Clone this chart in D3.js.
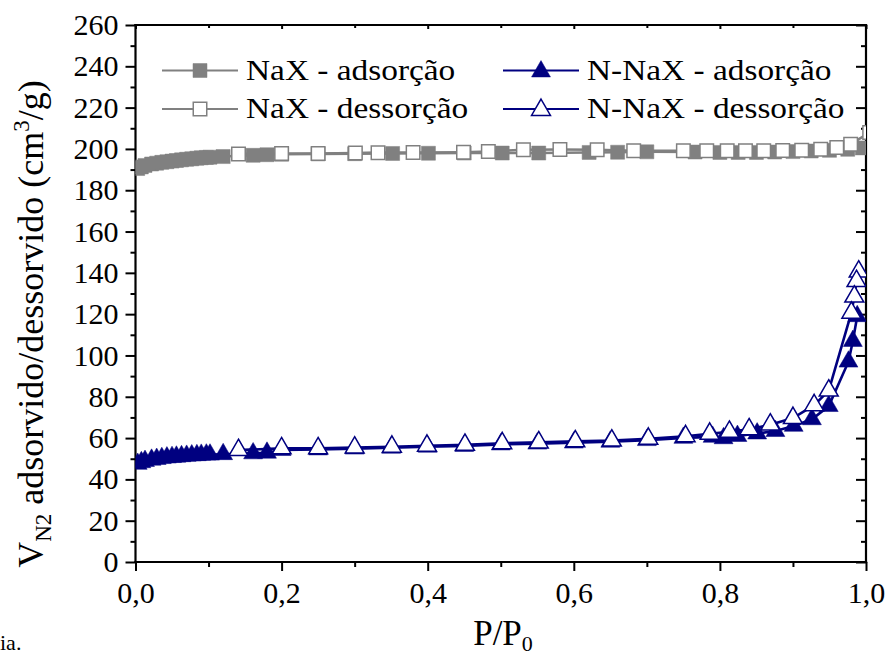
<!DOCTYPE html>
<html>
<head>
<meta charset="utf-8">
<script src="https://cdn.jsdelivr.net/npm/d3@7"></script>
<style>
  html, body { margin: 0; padding: 0; background: #fff; }
  svg { display: block; }
  text { font-family: "Liberation Serif", "Times New Roman", serif; fill: #000; }
</style>
</head>
<body>
<svg id="chart" width="889" height="657"></svg>
<script>
// ---------------- DATA ----------------
const naxAdsP = [0.003,0.008,0.013,0.022,0.029,0.036,0.043,0.050,0.056,0.063,0.070,0.077,0.084,0.090,0.097,0.102,0.12,0.161,0.18,0.20,0.25,0.30,0.352,0.401,0.45,0.502,0.552,0.621,0.66,0.70,0.766,0.80,0.825,0.85,0.875,0.90,0.925,0.95,0.975,0.995];
const naxAdsV = [190.5,191.3,192.0,192.7,193.1,193.5,193.8,194.1,194.4,194.7,195.0,195.2,195.5,195.7,195.9,196.0,196.3,196.9,197.2,197.4,197.6,197.7,197.8,197.9,198.0,198.0,198.0,198.3,198.4,198.6,198.5,198.3,198.3,198.3,198.5,198.7,199.0,199.3,199.8,200.5];
const naxDesP = [1.005,0.979,0.96,0.938,0.912,0.886,0.86,0.835,0.81,0.782,0.75,0.682,0.632,0.581,0.531,0.483,0.449,0.38,0.332,0.301,0.25,0.20,0.141];
const naxDesV = [208.0,202.3,200.7,199.9,199.4,199.2,199.1,199.1,199.1,199.1,199.1,199.1,199.6,199.7,199.6,198.7,198.4,198.3,198.2,198.0,197.8,197.8,197.6];

const nnaxAdsP = [0.003,0.008,0.013,0.022,0.029,0.036,0.043,0.050,0.056,0.063,0.070,0.077,0.084,0.090,0.097,0.102,0.12,0.161,0.18,0.20,0.25,0.30,0.35,0.40,0.45,0.50,0.55,0.60,0.65,0.70,0.75,0.79,0.805,0.824,0.851,0.876,0.901,0.926,0.949,0.976,0.982,0.988];
const nnaxAdsV = [47.5,48.3,48.9,49.5,49.9,50.3,50.6,50.8,51.0,51.2,51.4,51.6,51.7,51.9,52.0,52.0,52.2,52.6,52.9,54.2,54.5,54.9,55.3,55.8,56.2,56.9,57.3,57.8,58.2,59.0,60.1,60.6,59.9,61.0,62.2,63.4,65.9,69.1,75.5,97.0,107.0,119.0];
const nnaxDesP = [0.99,0.987,0.984,0.98,0.949,0.929,0.90,0.869,0.84,0.813,0.786,0.753,0.702,0.652,0.602,0.552,0.502,0.451,0.399,0.351,0.30,0.25,0.20,0.141];
const nnaxDesV = [140.6,136.0,128.5,120.7,83.0,75.9,69.7,66.5,64.2,63.0,62.1,60.9,59.7,58.8,58.4,57.9,57.5,56.7,56.3,55.8,55.4,55.0,55.0,54.2];

const xTickValues = [0, 0.2, 0.4, 0.6, 0.8, 1.0];
const xTickLabels = ["0,0", "0,2", "0,4", "0,6", "0,8", "1,0"];
const yTickValues = [0, 20, 40, 60, 80, 100, 120, 140, 160, 180, 200, 220, 240, 260];
const yTickLabels = ["0", "20", "40", "60", "80", "100", "120", "140", "160", "180", "200", "220", "240", "260"];

const legendLabels = ["NaX - adsorção", "NaX - dessorção", "N-NaX - adsorção", "N-NaX - dessorção"];

// ---------------- LAYOUT ----------------
const GRAY = "#808080", NAVY = "#000080";
const pL = 135.5, pR = 866, pT = 25, pB = 562;
const svg = d3.select("#chart");
const x = d3.scaleLinear().domain([0, 1]).range([pL, pR]);
const y = d3.scaleLinear().domain([0, 260]).range([pB, pT]);

svg.append("defs").append("clipPath").attr("id", "plotclip")
  .append("rect").attr("x", pL).attr("y", pT).attr("width", pR - pL).attr("height", pB - pT);

// ---------------- AXES ----------------
const fmtX = (d) => xTickLabels[xTickValues.indexOf(d)];
const fmtY = (d) => yTickLabels[yTickValues.indexOf(d)];
const xMinor = [0.1, 0.3, 0.5, 0.7, 0.9];
const yMinor = yTickValues.slice(0, -1).map(v => v + 10);

const gB = svg.append("g").attr("transform", `translate(0,${pB})`)
  .call(d3.axisBottom(x).tickValues(xTickValues).tickFormat(fmtX).tickSizeInner(9).tickSizeOuter(0).tickPadding(11));
gB.append("g").call(d3.axisBottom(x).tickValues(xMinor).tickFormat("").tickSizeInner(5).tickSizeOuter(0))
  .select(".domain").remove();
const gL = svg.append("g").attr("transform", `translate(${pL},0)`)
  .call(d3.axisLeft(y).tickValues(yTickValues).tickFormat(fmtY).tickSizeInner(10).tickSizeOuter(0).tickPadding(7));
gL.append("g").call(d3.axisLeft(y).tickValues(yMinor).tickFormat("").tickSizeInner(5).tickSizeOuter(0))
  .select(".domain").remove();
const gR = svg.append("g").attr("transform", `translate(${pR},0)`)
  .call(d3.axisLeft(y).tickValues(yTickValues).tickFormat("").tickSizeInner(10).tickSizeOuter(0));
gR.append("g").call(d3.axisLeft(y).tickValues(yMinor).tickFormat("").tickSizeInner(5).tickSizeOuter(0))
  .select(".domain").remove();
const gT = svg.append("g").attr("transform", `translate(0,${pT})`)
  .call(d3.axisBottom(x).tickValues(xTickValues).tickFormat("").tickSizeInner(4).tickSizeOuter(0));
gT.append("g").call(d3.axisBottom(x).tickValues(xMinor).tickFormat("").tickSizeInner(3).tickSizeOuter(0))
  .select(".domain").remove();

[gB, gL, gR, gT].forEach(g => {
  g.selectAll(".domain").attr("stroke", "#000").attr("stroke-width", 2.2);
  g.selectAll(".tick line").attr("stroke", "#000").attr("stroke-width", 2);
});
gB.select(".domain").attr("d", `M${pL - 1.1},0H${pR + 1.1}`);
gT.select(".domain").attr("d", `M${pL - 1.1},0H${pR + 1.1}`);
gL.select(".domain").attr("d", `M0,${pB + 1.1}V${pT - 1.1}`);
gR.select(".domain").attr("d", `M0,${pB + 1.1}V${pT - 1.1}`);

gB.selectAll(".tick text").attr("font-size", 30).attr("font-family", "Liberation Serif").attr("fill", "#000");
gL.selectAll(".tick text").attr("font-size", 30).attr("font-family", "Liberation Serif").attr("fill", "#000");

// ---------------- SERIES ----------------
const plot = svg.append("g").attr("clip-path", "url(#plotclip)");
const line = d3.line().x(d => x(d[0])).y(d => y(d[1]));
const sq = d3.symbol().type(d3.symbolSquare).size(196);
const sqOpen = d3.symbol().type(d3.symbolSquare).size(182);
const tri = d3.symbol().type(d3.symbolTriangle).size(155);

function series(P, V, color, shape, filled) {
  const pts = P.map((p, i) => [p, V[i]]);
  plot.append("path").datum(pts).attr("d", line)
    .attr("fill", "none").attr("stroke", color).attr("stroke-width", 2.6);
  plot.append("g").selectAll("path").data(pts).join("path")
    .attr("transform", d => `translate(${x(d[0])},${y(d[1])})`)
    .attr("d", shape)
    .attr("fill", filled ? color : "#fff")
    .attr("stroke", color).attr("stroke-width", filled ? 0.5 : 1.5);
}
series(naxAdsP, naxAdsV, GRAY, sq, true);
series(naxDesP, naxDesV, GRAY, sqOpen, false);
series(nnaxAdsP, nnaxAdsV, NAVY, tri, true);
series(nnaxDesP, nnaxDesV, NAVY, tri, false);

// ---------------- LEGEND ----------------
const legendItems = [
  { lbl: legendLabels[0], color: GRAY, shape: sq, filled: true, x0: 162, cy: 70.5, ty: 79.5 },
  { lbl: legendLabels[1], color: GRAY, shape: sqOpen, filled: false, x0: 162, cy: 109, ty: 118 },
  { lbl: legendLabels[2], color: NAVY, shape: tri, filled: true, x0: 503, cy: 70.5, ty: 79.5 },
  { lbl: legendLabels[3], color: NAVY, shape: tri, filled: false, x0: 503, cy: 109, ty: 118 },
];
const lg = svg.append("g");
legendItems.forEach(it => {
  lg.append("line").attr("x1", it.x0).attr("x2", it.x0 + 76).attr("y1", it.cy).attr("y2", it.cy)
    .attr("stroke", it.color).attr("stroke-width", 2.2);
  lg.append("path").attr("transform", `translate(${it.x0 + 38},${it.cy + (it.shape === tri ? 1 : 0)})`)
    .attr("d", it.shape).attr("fill", it.filled ? it.color : "#fff")
    .attr("stroke", it.color).attr("stroke-width", it.filled ? 0.5 : 1.5);
  lg.append("text").attr("transform", `translate(${it.x0 + 84},${it.ty}) scale(1.15,1)`)
    .attr("font-size", 29).text(it.lbl);
});

// ---------------- AXIS TITLES ----------------
const yt = svg.append("text").attr("transform", "translate(43,324) rotate(-90)")
  .attr("text-anchor", "middle").attr("font-size", 36);
yt.append("tspan").text("V");
yt.append("tspan").attr("font-size", 23).attr("dy", 8).text("N2");
yt.append("tspan").attr("dy", -8).text(" adsorvido/dessorvido (cm");
yt.append("tspan").attr("font-size", 23).attr("dy", -14).text("3");
yt.append("tspan").attr("dy", 14).text("/g)");

const xt = svg.append("text").attr("x", 503).attr("y", 645)
  .attr("text-anchor", "middle").attr("font-size", 35);
xt.append("tspan").text("P/P");
xt.append("tspan").attr("font-size", 22).attr("dy", 6).text("0");

svg.append("text").attr("x", 0).attr("y", 650).attr("font-size", 22).text("ia.");
</script>
</body>
</html>
